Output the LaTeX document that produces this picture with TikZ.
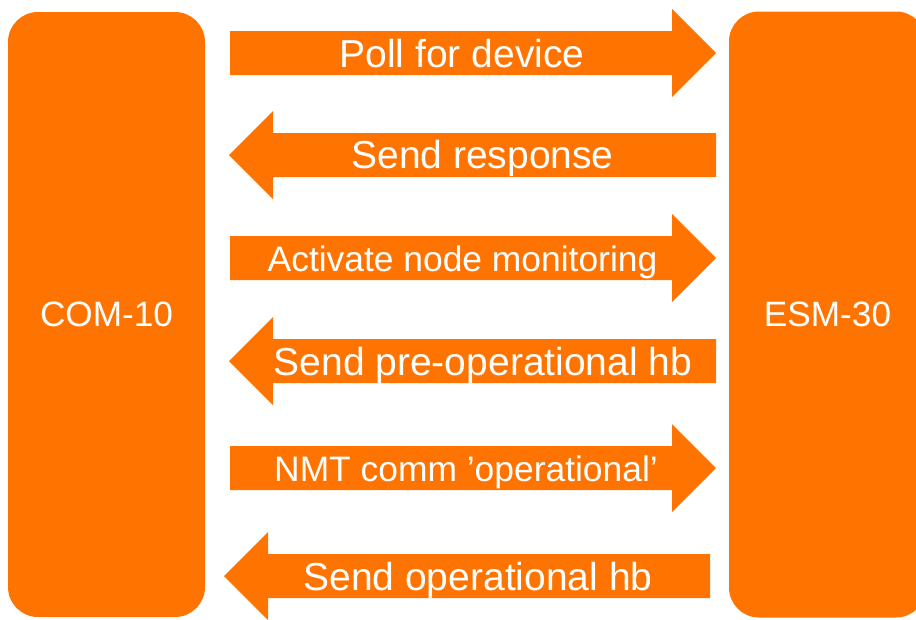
\documentclass[tikz,border=0pt]{standalone}
\usepackage{fontspec}
\setmainfont{Liberation Sans}
\definecolor{orng}{RGB}{255,116,0}
\tikzset{
  % block arrow pointing right, tail at the origin, #1 = total length
  pics/rblock/.style={code={
    \fill[orng] (0,-22) -- (#1-44,-22) -- (#1-44,-44) -- (#1,0)
      -- (#1-44,44) -- (#1-44,22) -- (0,22) -- cycle;}},
  % block arrow pointing left, tip at the origin, #1 = total length
  pics/lblock/.style={code={
    \fill[orng] (0,0) -- (44,-44) -- (44,-22) -- (#1,-22)
      -- (#1,22) -- (44,22) -- (44,44) -- cycle;}},
  unit/.style={fill=orng, rounded corners=30pt, inner sep=0pt,
    text=white, font=\fontsize{35.2}{42}\selectfont},
  msg/.style={text=white, anchor=base, inner sep=0pt},
  big/.style={font=\fontsize{39}{46}\selectfont},
  mid/.style={font=\fontsize{35.4}{42}\selectfont},
}
\begin{document}
\begin{tikzpicture}[x=1pt,y=-1pt]
\useasboundingbox (0,0) rectangle (916,619);
\clip (0,0) rectangle (916,619);

% the two devices
\node[unit, minimum width=197pt, minimum height=605pt] (com) at (106.5,314.5) {COM-10};
\node[unit, minimum width=197pt, minimum height=606pt] (esm) at (827.5,314.5) {ESM-30};

% message arrows between the devices
\pic (a1) at (230,53)  {rblock=486};
\pic (a2) at (229,155) {lblock=487};
\pic (a3) at (230,258) {rblock=486};
\pic (a4) at (229,361) {lblock=487};
\pic (a5) at (230,468) {rblock=486};
\pic (a6) at (224,576) {lblock=486};

% message labels
\node[msg, big] (m1) at (462,67)  {Poll for device};
\node[msg, big] (m2) at (482.5,168.5) {Send response};
\node[msg, mid] (m3) at (462.5,271) {Activate node monitoring};
\node[msg, big] (m4) at (483,375) {Send pre-operational hb};
\node[msg, mid] (m5) at (466,481) {NMT comm ’operational’};
\node[msg, big] (m6) at (478,590) {Send operational hb};
\end{tikzpicture}
\end{document}
